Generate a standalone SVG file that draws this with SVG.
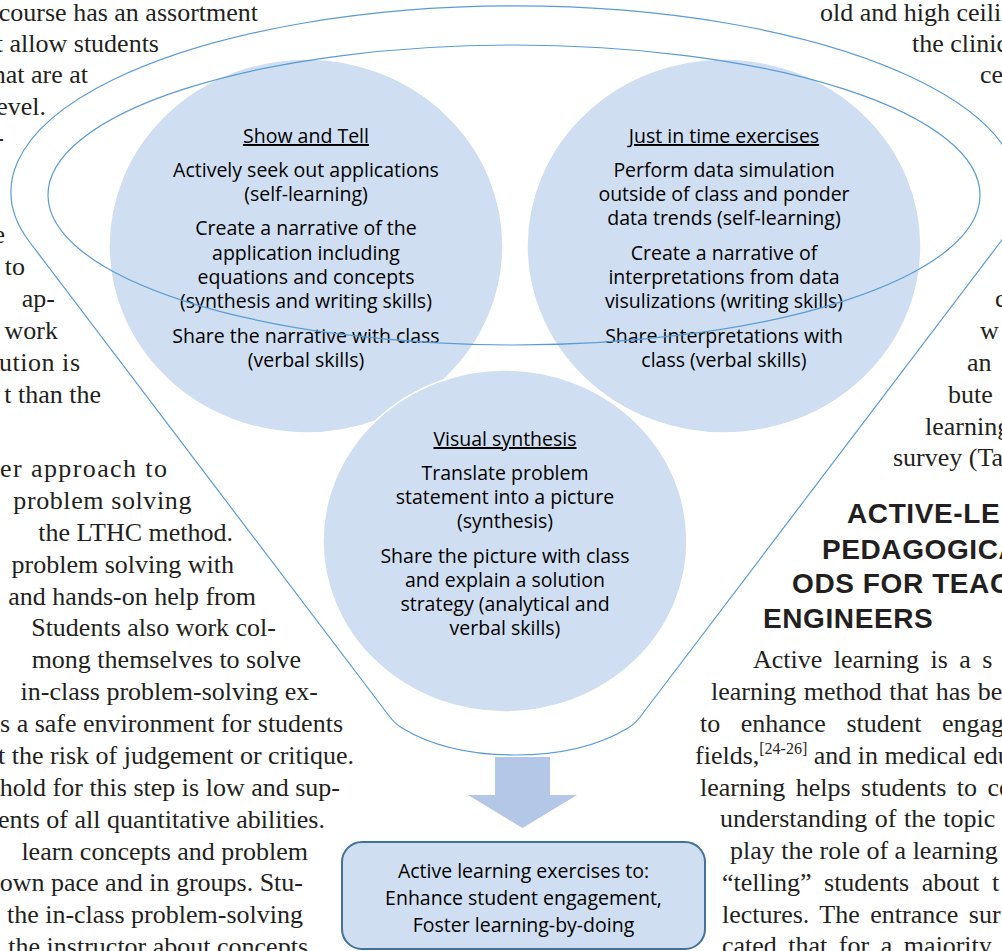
<svg xmlns="http://www.w3.org/2000/svg" width="1002" height="951" viewBox="0 0 1002 951">
  <style>
    .body { font-family: "Liberation Serif", "Times New Roman", serif; font-size: 26px; fill: #231f20; }
    .end { text-anchor: end; }
    .head { font-family: "Liberation Sans", Arial, sans-serif; font-weight: bold; font-size: 28px; letter-spacing: 0.6px; fill: #231f20; }
    .lbl { font-family: "Open Sans", "Liberation Sans", sans-serif; font-size: 19.5px; fill: #000; text-anchor: middle; }
    .ttl { text-decoration: underline; }
    .bubble { fill: #cfdff1; stroke: #ffffff; stroke-width: 1.5; }
    .rim { fill: none; stroke: #5b9bd5; stroke-width: 1.2; }
  </style>

  <!-- surrounding article columns -->
  <g id="article-text">
    <!-- left column, upper part -->
    <text class="body end" x="258" y="21">course has an assortment</text>
    <text class="body end" x="159" y="52">t allow students</text>
    <text class="body end" x="88" y="83">hat are at</text>
    <text class="body end" x="46" y="115">evel.</text>
    <text class="body end" x="4" y="146">-</text>
    <text class="body end" x="5" y="243">e</text>
    <text class="body end" x="25" y="275">to</text>
    <text class="body end" x="55" y="307">ap-</text>
    <text class="body end" x="58" y="339">work</text>
    <text class="body" x="-1" y="371" textLength="81" lengthAdjust="spacing">ution is</text>
    <text class="body end" x="101" y="403">t than the</text>
    <!-- left column, lower part -->
    <text class="body" x="0" y="477" textLength="167" lengthAdjust="spacing">er approach to</text>
    <text class="body end" x="192" y="509" letter-spacing="0.6">problem solving</text>
    <text class="body end" x="233" y="541">the LTHC method.</text>
    <text class="body end" x="234" y="573">problem solving with</text>
    <text class="body end" x="256" y="605">and hands-on help from</text>
    <text class="body end" x="276" y="636">Students also work col-</text>
    <text class="body end" x="301" y="668">mong themselves to solve</text>
    <text class="body end" x="318" y="700">in-class problem-solving ex-</text>
    <text class="body end" x="343" y="732">s a safe environment for students</text>
    <text class="body end" x="354" y="764">t the risk of judgement or critique.</text>
    <text class="body end" x="340" y="796">hold for this step is low and sup-</text>
    <text class="body end" x="325" y="828">ents of all quantitative abilities.</text>
    <text class="body end" x="308" y="860">learn concepts and problem</text>
    <text class="body end" x="303" y="891">own pace and in groups. Stu-</text>
    <text class="body end" x="303" y="923">the in-class problem-solving</text>
    <text class="body end" x="308" y="955">the instructor about concepts</text>

    <!-- right column -->
    <text class="body" x="820" y="21">old and high ceili</text>
    <text class="body" x="912" y="52">the clinic</text>
    <text class="body" x="980" y="83">ce</text>
    <text class="body" x="995" y="307">c</text>
    <text class="body" x="980" y="339">w</text>
    <text class="body" x="967" y="371">an</text>
    <text class="body" x="948" y="403">bute</text>
    <text class="body" x="925" y="435">learning</text>
    <text class="body" x="893" y="466">survey (Ta</text>
    <text class="head" x="847" y="523">ACTIVE-LE</text>
    <text class="head" x="822" y="559">PEDAGOGICA</text>
    <text class="head" x="792" y="593">ODS FOR TEAC</text>
    <text class="head" x="763" y="628">ENGINEERS</text>
    <text class="body" x="753" y="668" word-spacing="5">Active learning is a s</text>
    <text class="body" x="711" y="700" word-spacing="1">learning method that has be</text>
    <text class="body" x="700" y="732" word-spacing="14">to enhance student engage</text>
    <text class="body" x="695" y="764">fields,<tspan font-size="16" dy="-10">[24-26]</tspan><tspan dy="10"> and in medical edu</tspan></text>
    <text class="body" x="700" y="796" word-spacing="4">learning helps students to co</text>
    <text class="body" x="720" y="827" word-spacing="1">understanding of the topic w</text>
    <text class="body" x="730" y="859">play the role of a learning</text>
    <text class="body" x="722" y="891" word-spacing="6">“telling” students about t</text>
    <text class="body" x="722" y="923" word-spacing="4">lectures. The entrance sur</text>
    <text class="body" x="722" y="954" word-spacing="5">cated that for a majority</text>
  </g>

  <!-- activity bubbles -->
  <g id="node-show-and-tell">
    <ellipse class="bubble" cx="306" cy="246" rx="197" ry="187"/>
    <text class="lbl ttl" x="306" y="143">Show and Tell</text>
    <text class="lbl" x="306" y="177">Actively seek out applications</text>
    <text class="lbl" x="306" y="201">(self-learning)</text>
    <text class="lbl" x="306" y="235">Create a narrative of the</text>
    <text class="lbl" x="306" y="260">application including</text>
    <text class="lbl" x="306" y="284">equations and concepts</text>
    <text class="lbl" x="306" y="308">(synthesis and writing skills)</text>
    <text class="lbl" x="306" y="343">Share the narrative with class</text>
    <text class="lbl" x="306" y="367">(verbal skills)</text>
  </g>

  <g id="node-just-in-time">
    <ellipse class="bubble" cx="724" cy="246" rx="197" ry="187"/>
    <text class="lbl ttl" x="724" y="143">Just in time exercises</text>
    <text class="lbl" x="724" y="177">Perform data simulation</text>
    <text class="lbl" x="724" y="201">outside of class and ponder</text>
    <text class="lbl" x="724" y="225">data trends (self-learning)</text>
    <text class="lbl" x="724" y="260">Create a narrative of</text>
    <text class="lbl" x="724" y="284">interpretations from data</text>
    <text class="lbl" x="724" y="308">visulizations (writing skills)</text>
    <text class="lbl" x="724" y="343">Share interpretations with</text>
    <text class="lbl" x="724" y="367">class (verbal skills)</text>
  </g>

  <g id="node-visual-synthesis">
    <ellipse class="bubble" cx="505" cy="541" rx="182" ry="171"/>
    <text class="lbl ttl" x="505" y="446">Visual synthesis</text>
    <text class="lbl" x="505" y="480">Translate problem</text>
    <text class="lbl" x="505" y="504">statement into a picture</text>
    <text class="lbl" x="505" y="528">(synthesis)</text>
    <text class="lbl" x="505" y="563">Share the picture with class</text>
    <text class="lbl" x="505" y="587">and explain a solution</text>
    <text class="lbl" x="505" y="611">strategy (analytical and</text>
    <text class="lbl" x="505" y="635">verbal skills)</text>
  </g>

  <!-- funnel outline: rim ellipse plus body -->
  <g id="funnel">
    <path class="rim" d="M388.4,715 L29.6,242 A504,186 0 1 1 1000.4,242 L641.6,715 Q636,723 628,728 C595,748 555,755 515,755 C475,755 435,748 402,728 Q394,723 388.4,715 Z"/>
    <ellipse class="rim" cx="514" cy="195" rx="466" ry="150"/>
  </g>

  <g id="connectors">
    <path d="M495,757 H550 V795 H577 L522.5,828 L468,795 H495 Z" fill="#b4c7e7"/>
  </g>

  <g id="node-outcome">
    <rect x="342" y="842" width="363" height="107" rx="20" fill="#cfdff1" stroke="#41719c" stroke-width="2"/>
    <text class="lbl" x="523.5" y="878">Active learning exercises to:</text>
    <text class="lbl" x="523.5" y="905">Enhance student engagement,</text>
    <text class="lbl" x="523.5" y="932">Foster learning-by-doing</text>
  </g>
</svg>
